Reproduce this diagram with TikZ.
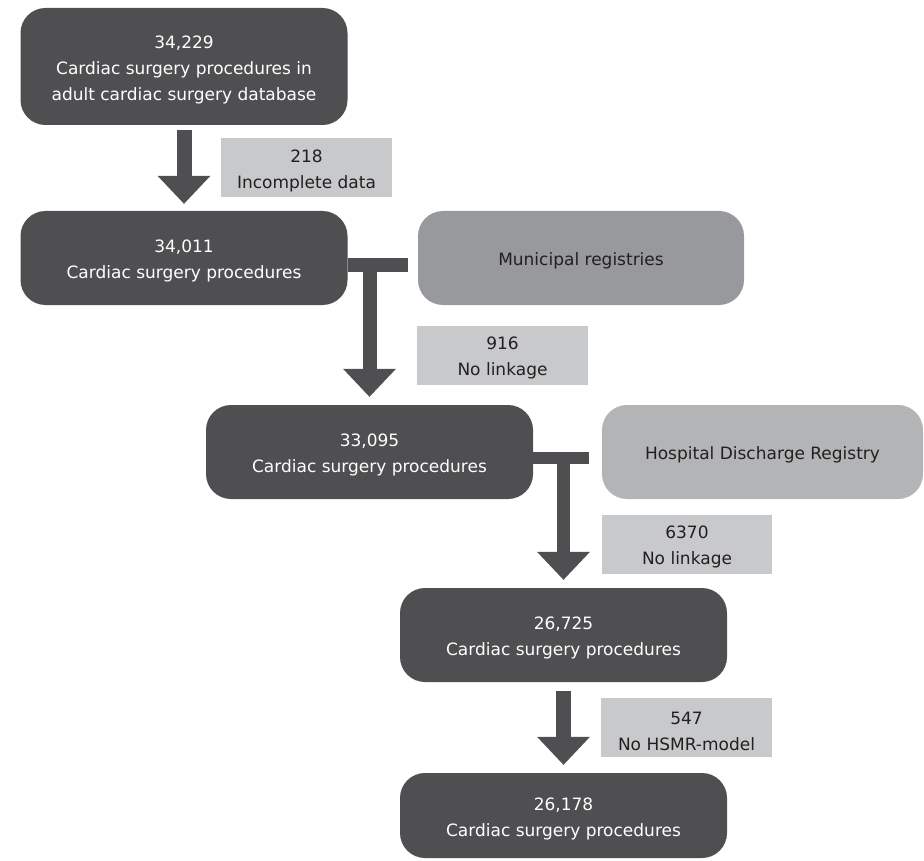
\documentclass[tikz,border=0pt]{standalone}
\usepackage{fontspec}
\setmainfont{DejaVu Sans}
\usetikzlibrary{arrows.meta,calc}
\definecolor{dark}{HTML}{4F4F51}
\definecolor{midgrey}{HTML}{98999C}
\definecolor{lightgrey}{HTML}{B3B4B6}
\definecolor{labelgrey}{HTML}{C8C9CB}
\definecolor{ink}{HTML}{231F20}
\newcommand{\topstrut}{\rule{0pt}{19.5pt}}
\begin{document}
\begin{tikzpicture}[x=1pt,y=-1pt,
 every node/.style={font=\fontsize{17}{26}\selectfont, align=center, inner sep=0pt},
 procbox/.style={fill=dark, text=white, rounded corners=25pt, minimum width=327pt},
 regbox/.style={rounded corners=25pt, text=ink},
 lbl/.style={fill=labelgrey, text=ink, minimum width=171pt, minimum height=59pt},
 flow/.style={draw=dark, line width=15pt, -{Triangle[width=53pt,length=28pt,line width=0pt]}},
 tbar/.style={draw=dark, line width=14pt}]
\useasboundingbox (0,0) rectangle (924,861);

\node[procbox, minimum height=117pt] (b1) at (184,66.5) {\topstrut 34,229\\Cardiac surgery procedures in\\adult cardiac surgery database};
\node[procbox, minimum height=94pt] (b2) at (184,258) {\topstrut 34,011\\Cardiac surgery procedures};
\node[regbox, fill=midgrey, minimum width=326pt, minimum height=94pt] (m) at (581,258) {\topstrut Municipal registries};
\node[procbox, minimum height=94pt] (b3) at (369.5,452) {\topstrut 33,095\\Cardiac surgery procedures};
\node[regbox, fill=lightgrey, minimum width=321pt, minimum height=94pt] (h) at (762.5,452) {\topstrut Hospital Discharge Registry};
\node[procbox, minimum height=94pt] (b4) at (563.5,635) {\topstrut 26,725\\Cardiac surgery procedures};
\node[procbox, minimum height=85pt] (b5) at (563.5,815.5) {\topstrut 26,178\\Cardiac surgery procedures};

\node[lbl] (l1) at (306.5,167.5) {\topstrut 218\\Incomplete data};
\node[lbl] (l2) at (502.5,355) {\topstrut 916\\No linkage};
\node[lbl, minimum width=170pt] (l3) at (687,544) {\topstrut 6370\\No linkage};
\node[lbl] (l4) at (686.5,727.5) {\topstrut 547\\No HSMR-model};

\draw[flow] ([yshift=-5pt]b1.south) -- ([yshift=7pt]b2.north);

\coordinate (j1) at ($(b2.east)+(0,7)$);
\draw[tbar] (j1) -- ++(60,0);
\draw[flow, line width=14pt] (b3.north |- j1) -- ([yshift=8pt]b3.north);

\coordinate (j2) at ($(b3.east)+(0,5.5)$);
\draw[tbar, line width=12pt] (j2) -- ++(56,0);
\draw[flow, line width=13pt] (b4.north |- j2) -- ([yshift=8pt]b4.north);

\draw[flow] ([yshift=-9pt]b4.south) -- ([yshift=8pt]b5.north);
\end{tikzpicture}
\end{document}
